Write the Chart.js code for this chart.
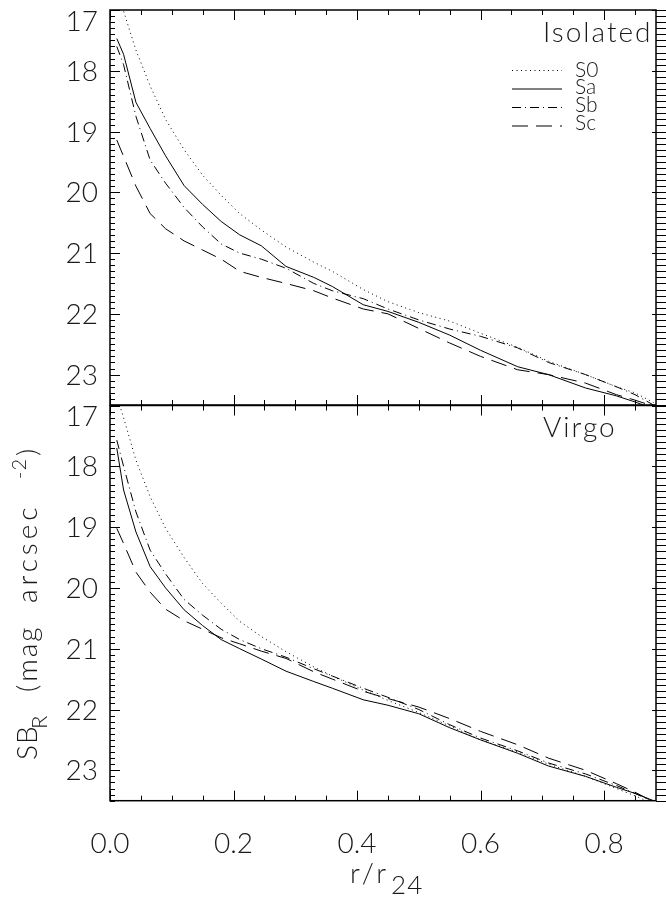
<!DOCTYPE html>
<html>
<head>
<meta charset="utf-8">
<script src="https://cdn.jsdelivr.net/npm/chart.js@4.4.1/dist/chart.umd.min.js"></script>
<style>
  body { margin: 0; background: #fff; }
  #wrap { position: relative; width: 666px; height: 899px; }
  canvas { position: absolute; left: 0; }
  #isoCanvas { top: 0; }
  #virCanvas { top: 400px; }
</style>
</head>
<body>
<div id="wrap">
  <canvas id="isoCanvas" width="666" height="420" style="width:666px;height:420px"></canvas>
  <canvas id="virCanvas" width="666" height="499" style="width:666px;height:499px"></canvas>
</div>
<script>
// radius in units of r24, shared by all profiles
var radius = [0.011, 0.022, 0.042, 0.065, 0.09, 0.12, 0.15, 0.18, 0.21, 0.245, 0.285, 0.33,
              0.36, 0.41, 0.45, 0.50, 0.55, 0.60, 0.66, 0.71, 0.77, 0.82, 0.85, 0.88];

// mean R-band surface brightness, isolated galaxies
var isoS0 = [16.75, 17.02, 17.66, 18.25, 18.80, 19.30, 19.72, 20.05, 20.35, 20.62, 20.90, 21.15,
             21.30, 21.60, 21.80, 21.98, 22.12, 22.32, 22.55, 22.78, 23.00, 23.20, 23.30, 23.46];
var isoSa = [17.47, 17.73, 18.52, 18.95, 19.40, 19.89, 20.20, 20.48, 20.70, 20.88, 21.22, 21.40,
             21.55, 21.85, 21.96, 22.14, 22.35, 22.60, 22.87, 23.00, 23.22, 23.35, 23.45, 23.56];
var isoSb = [17.60, 17.90, 18.75, 19.47, 19.85, 20.25, 20.57, 20.85, 21.00, 21.10, 21.25, 21.50,
             21.62, 21.75, 21.92, 22.10, 22.25, 22.37, 22.56, 22.80, 23.00, 23.20, 23.33, 23.50];
var isoSc = [19.14, 19.41, 19.90, 20.35, 20.60, 20.80, 20.95, 21.10, 21.30, 21.40, 21.50, 21.62,
             21.74, 21.92, 22.00, 22.24, 22.48, 22.70, 22.92, 23.00, 23.14, 23.33, 23.42, 23.52];

// same for Virgo cluster galaxies
var virS0 = [16.85, 17.20, 17.90, 18.50, 19.02, 19.50, 19.93, 20.25, 20.55, 20.80, 21.05, 21.30,
             21.45, 21.68, 21.85, 22.05, 22.27, 22.50, 22.70, 22.90, 23.10, 23.30, 23.42, 23.55];
var virSa = [17.70, 18.39, 19.08, 19.65, 20.00, 20.36, 20.62, 20.85, 21.00, 21.17, 21.37, 21.54,
             21.65, 21.84, 21.93, 22.07, 22.30, 22.50, 22.72, 22.93, 23.10, 23.28, 23.38, 23.50];
var virSb = [17.57, 18.00, 18.75, 19.38, 19.77, 20.19, 20.45, 20.68, 20.85, 21.00, 21.14, 21.33,
             21.45, 21.65, 21.80, 22.00, 22.25, 22.47, 22.68, 22.88, 23.06, 23.25, 23.38, 23.52];
var virSc = [19.02, 19.27, 19.74, 20.07, 20.35, 20.54, 20.68, 20.82, 20.92, 21.04, 21.16, 21.38,
             21.50, 21.70, 21.82, 21.96, 22.15, 22.36, 22.58, 22.80, 23.00, 23.22, 23.36, 23.52];

var typeNames = ['S0', 'Sa', 'Sb', 'Sc'];
var typeDash = [[1, 3.5], [], [9, 4, 1, 4], [16, 8]];

var xTickLabels = ['0.0', '0.2', '0.4', '0.6', '0.8'];
var yTickValues = [17, 18, 19, 20, 21, 22, 23];

var X_MAX = 0.884, Y_MIN = 17, Y_MAX = 23.5;
var FONT = "Lato, 'DejaVu Sans', sans-serif";
var WEIGHT = '300';
var INK = '#1a1a1a';

function font(size) { return WEIGHT + ' ' + size + 'px ' + FONT; }

function makeSets(profiles) {
  return profiles.map(function (vals, k) {
    return {
      label: typeNames[k],
      data: radius.map(function (r, i) { return { x: r, y: vals[i] }; }),
      showLine: true,
      borderColor: '#000',
      borderWidth: 1,
      borderDash: typeDash[k],
      pointRadius: 0,
      tension: 0
    };
  });
}

// box, tick marks and y labels
var framePlugin = {
  id: 'frame',
  afterDraw: function (chart) {
    var ctx = chart.ctx, a = chart.chartArea;
    var xs = chart.scales.x, ys = chart.scales.y;
    ctx.save();
    ctx.strokeStyle = '#000';
    ctx.lineWidth = 1.5;
    ctx.strokeRect(a.left, a.top, a.right - a.left, a.bottom - a.top);
    ctx.lineWidth = 1;
    ctx.beginPath();
    for (var i = 0; i * 0.05 <= X_MAX; i++) {
      var px = Math.round(xs.getPixelForValue(i * 0.05)) + 0.5;
      var lx = (i % 4 === 0) ? 10 : 5;
      ctx.moveTo(px, a.top); ctx.lineTo(px, a.top + lx);
      ctx.moveTo(px, a.bottom); ctx.lineTo(px, a.bottom - lx);
    }
    for (var j = 0; j <= 65; j++) {
      var py = Math.round(ys.getPixelForValue(Y_MIN + j * 0.1)) + 0.5;
      var major = (j % 10 === 0);
      ctx.moveTo(a.left, py); ctx.lineTo(a.left + (major ? 10 : 5), py);
      // right axis ticks stick out of the box
      ctx.moveTo(a.right - (major ? 4 : 0), py); ctx.lineTo(a.right + 10, py);
    }
    ctx.stroke();

    // integer labels; the one at the top edge is pushed inside the panel
    ctx.fillStyle = INK;
    ctx.font = font(28);
    ctx.textAlign = 'right';
    ctx.textBaseline = 'alphabetic';
    yTickValues.forEach(function (v) {
      var cy = Math.max(ys.getPixelForValue(v), a.top + 10.5);
      ctx.fillText(String(v), 98, cy + 10);
    });
    ctx.restore();
  }
};

// draw strings one after another; 'at' fixes a start offset, otherwise
// the piece follows the previous one after 'gap' pixels
function drawRun(ctx, parts, x0, y0) {
  var x = 0;
  parts.forEach(function (p) {
    ctx.font = font(p.size);
    ctx.letterSpacing = (p.spacing || 0) + 'px';
    if (p.at !== undefined) x = p.at; else x += (p.gap || 0);
    ctx.fillText(p.text, x0 + x, y0 + (p.dy || 0));
    x += ctx.measureText(p.text).width;
  });
  ctx.letterSpacing = '0px';
}

// panel name, legend and axis titles
var textPlugin = {
  id: 'panelText',
  afterDraw: function (chart, args, opts) {
    var ctx = chart.ctx;
    ctx.save();
    ctx.fillStyle = INK;
    ctx.textBaseline = 'alphabetic';
    ctx.textAlign = 'left';
    ctx.font = font(28);
    ctx.letterSpacing = '2px';
    ctx.fillText(opts.name, 543, opts.nameY);
    ctx.letterSpacing = '0px';

    if (opts.legend) {
      var rows = [70.5, 89, 107.5, 126];
      var base = [76.5, 94, 111.5, 130];
      ctx.font = font(21);
      for (var k = 0; k < typeNames.length; k++) {
        ctx.beginPath();
        ctx.lineWidth = 1;
        ctx.strokeStyle = '#000';
        ctx.setLineDash(typeDash[k]);
        ctx.moveTo(512, rows[k]);
        ctx.lineTo(562, rows[k]);
        ctx.stroke();
        ctx.fillText(typeNames[k], 575, base[k]);
      }
      ctx.setLineDash([]);
    }

    if (opts.titles) {
      // y title: SB_R (mag arcsec^-2), reading upwards from y = 760
      ctx.save();
      ctx.translate(37, 360);
      ctx.rotate(-Math.PI / 2);
      drawRun(ctx, [
        { text: 'SB', size: 28, at: 0, spacing: 1 },
        { text: 'R', size: 22, at: 31, dy: 10 },
        { text: '(', size: 28, at: 68 },
        { text: 'mag', size: 28, gap: 3, spacing: 2 },
        { text: 'arcsec', size: 28, at: 157, spacing: 4 },
        { text: '-2', size: 20, at: 281, dy: -11, spacing: 1 },
        { text: ')', size: 28, gap: 2 }
      ], 0, 0);
      ctx.restore();

      // x title: r/r_24
      drawRun(ctx, [
        { text: 'r/r', size: 28, at: 0, spacing: 3 },
        { text: '24', size: 26, gap: 2, dy: 11, spacing: 1 }
      ], 350, 483);
    }
    ctx.restore();
  }
};

function panelOptions(bottom, textOpts) {
  return {
    responsive: false,
    animation: false,
    layout: { padding: { top: bottom ? 5.5 : 10, right: 10, bottom: bottom ? 0 : 15, left: 0 } },
    plugins: {
      legend: { display: false },
      tooltip: { enabled: false },
      panelText: textOpts
    },
    scales: {
      x: {
        type: 'linear', min: 0, max: X_MAX, display: bottom,
        grid: { display: false, drawTicks: false },
        border: { display: false },
        ticks: {
          stepSize: 0.2, includeBounds: false, autoSkip: false, maxRotation: 0,
          padding: 26, color: INK,
          font: { family: FONT, size: 28, weight: WEIGHT },
          callback: function (v) { return xTickLabels[Math.round(v / 0.2)]; }
        },
        afterFit: function (s) {
          s.height = bottom ? 98.3 : 0;
          s.paddingLeft = 0; s.paddingRight = 0;
        }
      },
      y: {
        type: 'linear', min: Y_MIN, max: Y_MAX, reverse: true,
        grid: { display: false, drawTicks: false },
        border: { display: false },
        ticks: { stepSize: 1, includeBounds: false, display: false },
        afterFit: function (s) {
          s.width = 110;
          s.paddingTop = 0; s.paddingBottom = 0;
        }
      }
    }
  };
}

new Chart(document.getElementById('isoCanvas'), {
  type: 'scatter',
  data: { datasets: makeSets([isoS0, isoSa, isoSb, isoSc]) },
  options: panelOptions(false, { name: 'Isolated', nameY: 42, legend: true }),
  plugins: [framePlugin, textPlugin]
});

new Chart(document.getElementById('virCanvas'), {
  type: 'scatter',
  data: { datasets: makeSets([virS0, virSa, virSb, virSc]) },
  options: panelOptions(true, { name: 'Virgo', nameY: 37, titles: true }),
  plugins: [framePlugin, textPlugin]
});
</script>
</body>
</html>
